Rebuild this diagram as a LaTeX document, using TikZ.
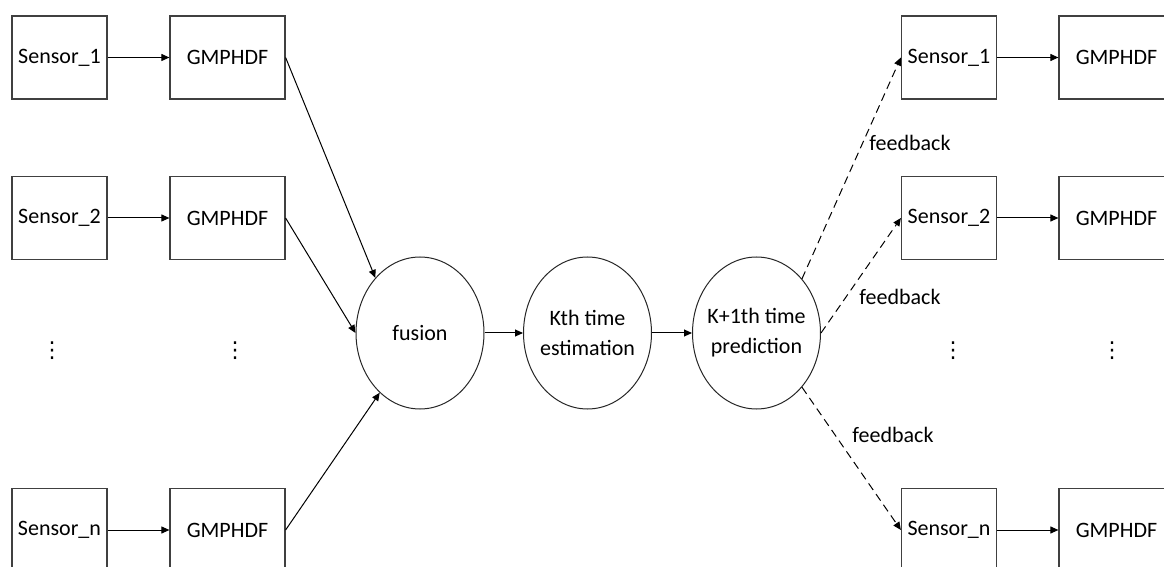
\documentclass[tikz,border=0pt]{standalone}
\usepackage{fontspec}
\setmainfont{Carlito}
\newfontfamily\symfont{DejaVu Sans}
\usetikzlibrary{arrows.meta,shapes.geometric}

\tikzset{
  blk/.style={draw=black!75, line width=0.6pt, minimum height=41.5pt, inner sep=0pt},
  sensorbox/.style={blk, minimum width=47.5pt},
  filterbox/.style={blk, minimum width=57.5pt},
  stage/.style={draw=black!85, line width=0.5pt, ellipse, minimum width=64pt, minimum height=76pt, inner xsep=-6pt, inner ysep=0pt, align=center},
  flow/.style={line width=0.5pt, -{Triangle[length=4pt,width=3.5pt]}},
  fback/.style={flow, dash pattern=on 4pt off 2.5pt},
  vdot/.style={font=\symfont\fontsize{11}{13}\selectfont, inner sep=0pt},
}

\begin{document}
\begin{tikzpicture}[x=0.5pt, y=-0.5pt, font=\fontsize{11}{15}\selectfont]

    \clip (0,0) rectangle (1164,567);

    % left: sensors and filters
    \node[sensorbox] (sl1) at (59.5,57.5) {Sensor\_1};
    \node[filterbox] (gl1) at (227.5,57.5) {GMPHDF};
    \node[sensorbox] (sl2) at (59.5,218) {Sensor\_2};
    \node[filterbox] (gl2) at (227.5,218) {GMPHDF};
    \node[sensorbox] (sln) at (59.5,530) {Sensor\_n};
    \node[filterbox] (gln) at (227.5,530) {GMPHDF};

    \node[vdot] (dsl) at (52,351) {⋮};
    \node[vdot] (dgl) at (235,351) {⋮};

    \draw[flow] (sl1) -- (gl1);
    \draw[flow] (sl2) -- (gl2);
    \draw[flow] (sln) -- (gln);

    % middle: fusion chain
    \node[stage] (fusion) at (420,333) {fusion};
    \node[stage] (kest) at (587.5,333) {Kth time\\estimation};
    \node[stage] (kpre) at (756.5,333) {K+1th time\\prediction};

    \draw[flow] (gl1.east) -- (fusion.129);
    \draw[flow] (gl2.east) -- (fusion.west);
    \draw[flow] (gln.east) -- (fusion.236);
    \draw[flow] (fusion) -- (kest);
    \draw[flow] (kest) -- (kpre);

    % right: sensors and filters of the next step
    \node[sensorbox] (sr1) at (949,57.5) {Sensor\_1};
    \node[filterbox] (gr1) at (1116.5,57.5) {GMPHDF};
    \node[sensorbox] (sr2) at (949,218) {Sensor\_2};
    \node[filterbox] (gr2) at (1116.5,218) {GMPHDF};
    \node[sensorbox] (srn) at (949,530) {Sensor\_n};
    \node[filterbox] (grn) at (1116.5,530) {GMPHDF};

    \node[vdot] (dsr) at (953,351) {⋮};
    \node[vdot] (dgr) at (1112,351) {⋮};

    \draw[flow] (sr1) -- (gr1);
    \draw[flow] (sr2) -- (gr2);
    \draw[flow] (srn) -- (grn);

    % feedback
    \draw[fback] (kpre.50) -- (sr1.west);
    \draw[fback] (kpre.east) -- (sr2.west);
    \draw[fback] (kpre.310) -- (srn.west);

    \node (fb1) at (910,143) {feedback};
    \node (fb2) at (900,297) {feedback};
    \node (fb3) at (893,435) {feedback};

\end{tikzpicture}
\end{document}
